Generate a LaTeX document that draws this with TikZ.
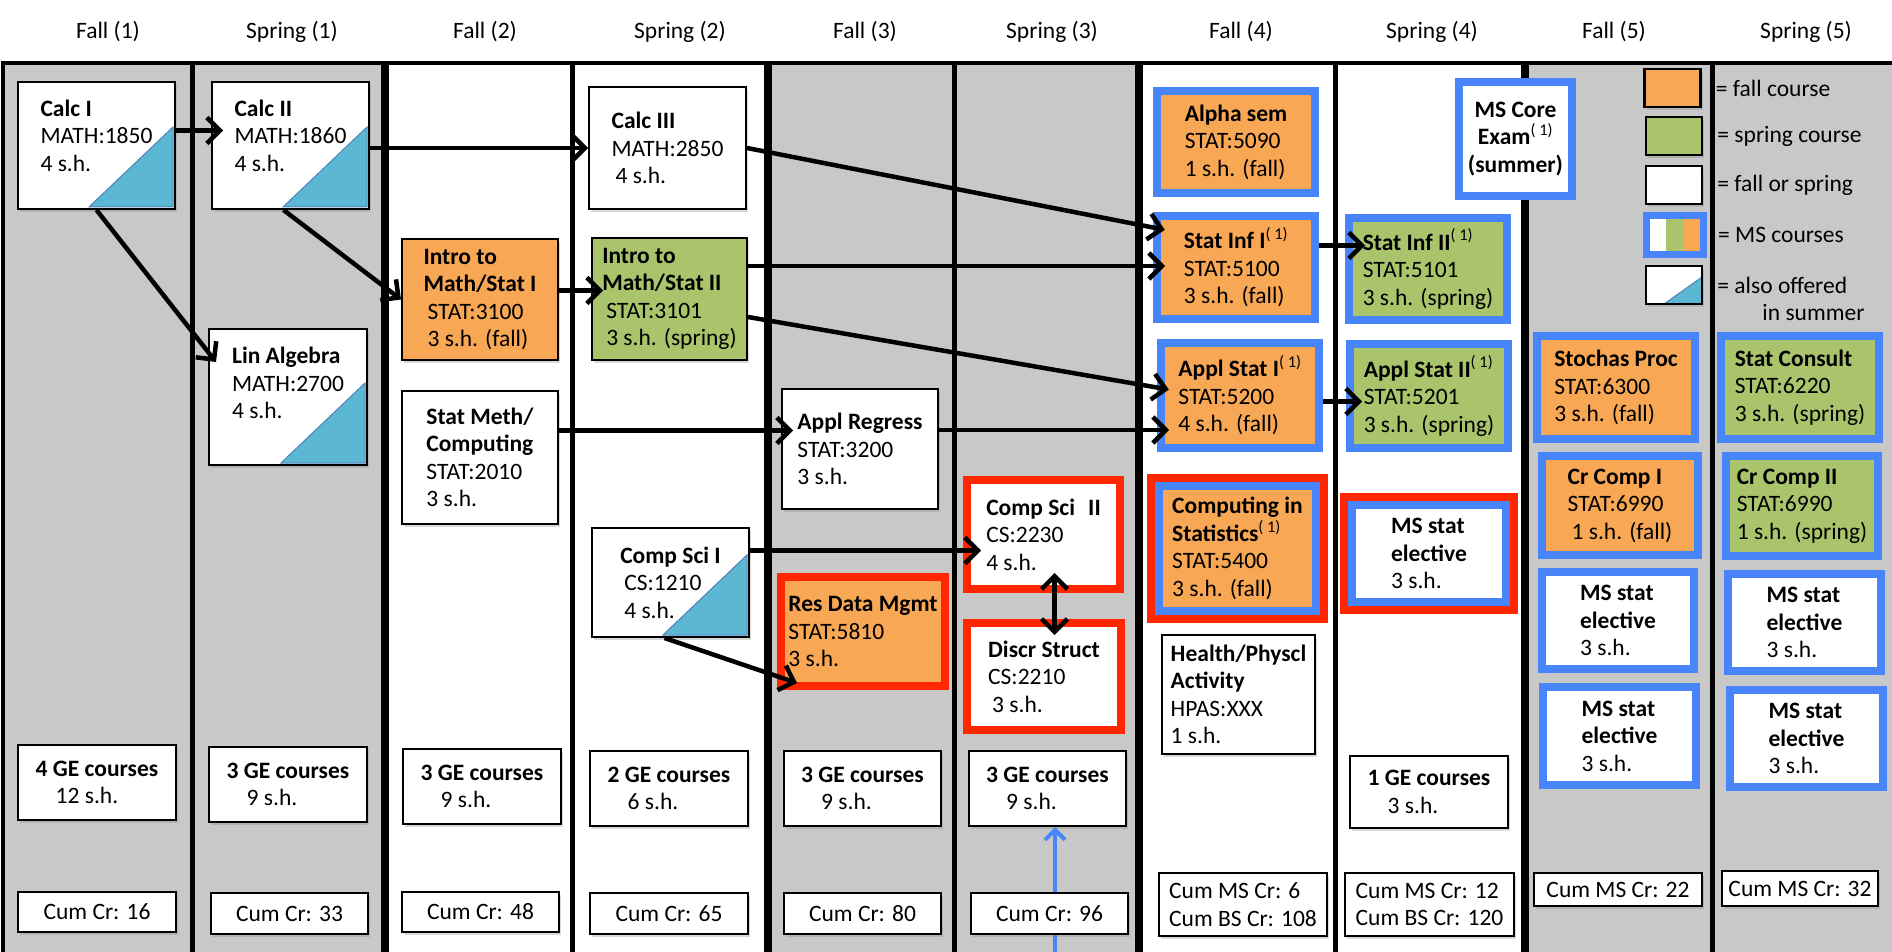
\documentclass[tikz,border=0pt]{standalone}
\usepackage{fontspec}
\setmainfont{Carlito}
\usetikzlibrary{positioning,arrows.meta,shadows,backgrounds}

\definecolor{colgrey}{RGB}{200,200,200}
\definecolor{fallorange}{RGB}{248,167,85}
\definecolor{springgreen}{RGB}{170,196,108}
\definecolor{msblue}{RGB}{72,132,250}
\definecolor{reqred}{RGB}{255,38,0}
\definecolor{summerblue}{RGB}{92,184,210}
\definecolor{summeredge}{RGB}{79,129,189}

\begin{document}
\begin{tikzpicture}[x=1pt,y=-1pt,>={Straight Barb[length=13pt,width=26pt]},
    every node/.style={font=\fontsize{23.5}{27.5}\selectfont},
    course/.style={rectangle,draw,line width=2pt,fill=white,align=left,
                   inner xsep=6pt,inner ysep=4pt,
                   drop shadow={shadow xshift=2pt,shadow yshift=-3pt,opacity=.3}},
    fall course/.style={fill=fallorange},
    spring course/.style={fill=springgreen},
    ms/.style={draw=msblue,line width=8pt},
    req/.style={draw=reqred,line width=8pt},
    req ms/.style={req,path picture={\draw[msblue,line width=24pt]
        (path picture bounding box.south west) rectangle (path picture bounding box.north east);}},
    summer/.style={path picture={\filldraw[fill=summerblue,draw=summeredge,line width=1pt]
        ([shift={(-2pt,2pt)}]path picture bounding box.south east) -- ++(-84pt,0pt)
        -- ++(84pt,80pt) -- cycle;}},
    cum/.style={course,align=center,inner ysep=3pt},
    legend box/.style={rectangle,draw,line width=2.5pt,inner sep=0pt,
                       minimum width=56,minimum height=38,
                       drop shadow={shadow xshift=2pt,shadow yshift=-3pt,opacity=.3}},
    legend text/.style={inner sep=2pt},
    link/.style={->,line width=4.5pt},
    hlink/.style={link,shorten >=-12pt}]

  \useasboundingbox (0,0) rectangle (1892,952);

  % columns
  \begin{pgfonlayer}{background}
    \foreach \a/\b in {3/192,192/385,768/954,954/1139,1525/1712,1712/1892}
      \fill[colgrey] (\a,63) rectangle (\b,952);
    \draw[line width=4pt] (3,952) -- (3,63) -- (1892,63);
    \foreach \x in {192,572,954,1335,1712}
      \draw[line width=5pt] (\x,63) -- (\x,952);
    \foreach \x in {385,768,1139,1525}
      \draw[line width=8pt] (\x,63) -- (\x,952);
  \end{pgfonlayer}

  \foreach \x/\term [count=\i] in {108/Fall (1),292/Spring (1),485/Fall (2),680/Spring (2),
      865/Fall (3),1052/Spring (3),1241/Fall (4),1432/Spring (4),1614/Fall (5),1806/Spring (5)}
    \node (head\i) at (\x,32) {\term};

  % year 1
  \node[course,summer,minimum width=157,minimum height=127] (calcI) at (96.5,145.5)
    {\textbf{Calc I}\\MATH:1850\\4 s.h.\\[-8pt]\mbox{}};
  \node[course,minimum width=158,minimum height=75] (ge1) at (97,782.5)
    {\textbf{4 GE courses}\\\hspace*{20pt}12 s.h.};
  \node[cum,minimum width=158,minimum height=40] (cum1) at (97,912) {Cum Cr: 16};

  \node[course,summer,minimum width=157,minimum height=127] (calcII) at (290.5,145.5)
    {\textbf{Calc II}\\MATH:1860\\4 s.h.\\[-8pt]\mbox{}};
  \node[course,summer,minimum width=158,minimum height=136] (linalg) at (288,397)
    {\textbf{Lin Algebra}\\MATH:2700\\4 s.h.\\\mbox{}};
  \node[course,minimum width=158,minimum height=75] (ge2) at (288,784.5)
    {\textbf{3 GE courses}\\\hspace*{20pt}9 s.h.};
  \node[cum,minimum width=157,minimum height=41] (cum2) at (289.5,913.5) {Cum Cr: 33};

  % year 2
  \node[course,fall course,minimum width=156,minimum height=121] (intro1) at (480,299.5)
    {\textbf{Intro to}\\\textbf{Math/Stat I}\\\hspace*{4pt}STAT:3100\\\hspace*{4pt}3 s.h. (fall)};
  \node[course,minimum width=156,minimum height=133] (statmeth) at (480,457.5)
    {\textbf{Stat Meth/}\\\textbf{Computing}\\STAT:2010\\3 s.h.};
  \node[course,minimum width=158,minimum height=75] (ge3) at (482,786.5)
    {\textbf{3 GE courses}\\\hspace*{20pt}9 s.h.};
  \node[cum,minimum width=157,minimum height=40] (cum3) at (480.5,912) {Cum Cr: 48};

  \node[course,minimum width=157,minimum height=122] (calcIII) at (667.5,148)
    {\textbf{Calc III}\\MATH:2850\\\hspace*{4pt}4 s.h.};
  \node[course,spring course,minimum width=155,minimum height=122] (intro2) at (669.5,299)
    {\textbf{Intro to}\\\textbf{Math/Stat II}\\\hspace*{4pt}STAT:3101\\\hspace*{4pt}3 s.h. (spring)};
  \node[course,summer,minimum width=157,minimum height=109] (compsciI) at (670.5,582.5)
    {\textbf{Comp Sci I}\\\hspace*{4pt}CS:1210\\\hspace*{4pt}4 s.h.};
  \node[course,minimum width=158,minimum height=75] (ge4) at (669,788.5)
    {\textbf{2 GE courses}\\\hspace*{20pt}6 s.h.};
  \node[cum,minimum width=158,minimum height=41] (cum4) at (669,913.5) {Cum Cr: 65};

  % year 3
  \node[course,minimum width=156,minimum height=120] (applreg) at (860,449)
    {\textbf{Appl Regress}\\STAT:3200\\3 s.h.};
  \node[course,fall course,req,inner xsep=3pt,minimum width=164,minimum height=109] (resdata) at (863,631.5)
    {\textbf{Res Data Mgmt}\\STAT:5810\\3 s.h.};
  \node[course,minimum width=157,minimum height=75] (ge5) at (862.5,788.5)
    {\textbf{3 GE courses}\\\hspace*{20pt}9 s.h.};
  \node[cum,minimum width=157,minimum height=41] (cum5) at (862.5,913.5) {Cum Cr: 80};

  \node[course,req,minimum width=153,minimum height=109] (compsciII) at (1043.5,534.5)
    {\textbf{Comp Sci\,\, II}\\CS:2230\\4 s.h.};
  \node[course,req,minimum width=154,minimum height=107] (discr) at (1044,676.5)
    {\textbf{Discr Struct}\\CS:2210\\\hspace*{4pt}3 s.h.};
  \node[course,minimum width=157,minimum height=75] (ge6) at (1047.5,788.5)
    {\textbf{3 GE courses}\\\hspace*{20pt}9 s.h.};
  \node[cum,minimum width=157,minimum height=41] (cum6) at (1049.5,913.5) {Cum Cr: 96};

  % year 4
  \node[course,fall course,ms,minimum width=158,minimum height=102] (alpha) at (1236,142)
    {\textbf{Alpha sem}\\STAT:5090\\1 s.h. (fall)};
  \node[course,fall course,ms,minimum width=158,minimum height=103] (statinf1) at (1236,267.5)
    {\textbf{Stat Inf I}\textsuperscript{( 1)}\\STAT:5100\\3 s.h. (fall)};
  \node[course,fall course,ms,minimum width=158,minimum height=105] (applstat1) at (1240,395.5)
    {\textbf{Appl Stat I}\textsuperscript{( 1)}\\STAT:5200\\4 s.h. (fall)};
  \node[course,fall course,req ms,minimum width=173,minimum height=141] (compstat) at (1237.5,548.5)
    {\textbf{Computing in}\\\textbf{Statistics}\textsuperscript{( 1)}\\STAT:5400\\3 s.h. (fall)};
  \node[course,minimum width=153,minimum height=119] (health) at (1238.5,694.5)
    {\textbf{Health/Physcl}\\\textbf{Activity}\\HPAS:XXX\\1 s.h.};
  \node[cum,align=left,minimum width=168,minimum height=63] (cumms6) at (1243,904.5)
    {Cum MS Cr: 6\\Cum BS Cr: 108};

  \node[course,ms,align=center,minimum width=113,minimum height=114] (mscore) at (1515.5,139)
    {\textbf{MS Core}\\\textbf{Exam}\textsuperscript{( 1)}\\\textbf{(summer)}};
  \node[course,spring course,ms,minimum width=158,minimum height=102] (statinf2) at (1428,269)
    {\textbf{Stat Inf II}\textsuperscript{( 1)}\\STAT:5101\\3 s.h. (spring)};
  \node[course,spring course,ms,minimum width=158,minimum height=104] (applstat2) at (1429,396)
    {\textbf{Appl Stat II}\textsuperscript{( 1)}\\STAT:5201\\3 s.h. (spring)};
  \node[course,req ms,minimum width=170,minimum height=113] (mselec4) at (1429,553.5)
    {\textbf{MS stat}\\\textbf{elective}\\3 s.h.};
  \node[course,minimum width=158,minimum height=72] (ge8) at (1429,792)
    {\textbf{1 GE courses}\\\hspace*{20pt}3 s.h.};
  \node[cum,align=left,minimum width=169,minimum height=63] (cumms12) at (1429.5,904.5)
    {Cum MS Cr: 12\\Cum BS Cr: 120};

  % year 5
  \node[course,fall course,ms,minimum width=158,minimum height=103] (stochas) at (1616,387.5)
    {\textbf{Stochas Proc}\\STAT:6300\\3 s.h. (fall)};
  \node[course,fall course,ms,minimum width=156,minimum height=99] (crcomp1) at (1620,505.5)
    {\textbf{Cr Comp I}\\STAT:6990\\\hspace*{4pt}1 s.h. (fall)};
  \node[course,ms,minimum width=152,minimum height=97] (mself1) at (1618,620.5)
    {\textbf{MS stat}\\\textbf{elective}\\3 s.h.};
  \node[course,ms,minimum width=153,minimum height=98] (mself2) at (1619.5,736)
    {\textbf{MS stat}\\\textbf{elective}\\3 s.h.};
  \node[cum,minimum width=168,minimum height=33] (cumms22) at (1618,889.5) {Cum MS Cr: 22};

  \node[course,spring course,ms,minimum width=158,minimum height=103] (statconsult) at (1800,387.5)
    {\textbf{Stat Consult}\\STAT:6220\\3 s.h. (spring)};
  \node[course,spring course,ms,minimum width=152,minimum height=100] (crcomp2) at (1802,506)
    {\textbf{Cr Comp II}\\STAT:6990\\1 s.h. (spring)};
  \node[course,ms,minimum width=153,minimum height=97] (msels1) at (1804.5,622.5)
    {\textbf{MS stat}\\\textbf{elective}\\3 s.h.};
  \node[course,ms,minimum width=153,minimum height=97] (msels2) at (1806.5,738.5)
    {\textbf{MS stat}\\\textbf{elective}\\3 s.h.};
  \node[cum,minimum width=156,minimum height=35] (cumms32) at (1800,888.5) {Cum MS Cr: 32};

  % legend
  \node[legend box,fill=fallorange] (lgfall) at (1672.5,88) {};
  \node[legend box,fill=springgreen] (lgspring) at (1674,136) {};
  \node[legend box,fill=white] (lgboth) at (1674,185) {};
  \node[legend box,draw=msblue,line width=7pt,fill=white,minimum width=57,minimum height=39,
        path picture={\fill[springgreen] ([xshift=19pt]path picture bounding box.south west)
            rectangle ([xshift=36pt]path picture bounding box.north west);
          \fill[fallorange] ([xshift=36pt]path picture bounding box.south west)
            rectangle (path picture bounding box.north east);}] (lgms) at (1675,235) {};
  \node[legend box,fill=white,
        path picture={\filldraw[fill=summerblue,draw=summeredge,line width=1pt]
          (path picture bounding box.south east) -- ++(-38pt,0pt) -- ++(38pt,27pt) -- cycle;}]
        (lgsummer) at (1674,285) {};

  \node[legend text,right=12pt of lgfall] (lgfalltxt) {= fall course};
  \node[legend text,right=12pt of lgspring] (lgspringtxt) {= spring course};
  \node[legend text,right=12pt of lgboth] (lgbothtxt) {= fall or spring};
  \node[legend text,right=9pt of lgms] (lgmstxt) {= MS courses};
  \node[legend text,align=left,anchor=north west] (lgsummertxt)
    at ([xshift=12pt,yshift=-10pt]lgsummer.north east) {= also offered\\\hspace*{45pt}in summer};

  % prerequisites
  \draw[hlink] ([yshift=15pt]calcI.east) -- ([yshift=15pt]calcI.east -| calcII.west);
  \draw[link] (calcI.south) -- ([shift={(8pt,-34pt)}]linalg.north west);
  \draw[link] ([xshift=-7pt]calcII.south) -- (intro1.west);
  \draw[link] (calcII.east |- calcIII.west) -- (calcIII.west);
  \draw[hlink] ([yshift=9pt]intro1.east) -- ([yshift=9pt]intro1.east -| intro2.west);
  \draw[hlink] (calcIII.east) -- ([yshift=40pt]statinf1.west);
  \draw[hlink] ([yshift=33pt]intro2.east) -- ([yshift=33pt]intro2.east -| statinf1.west);
  \draw[hlink] ([yshift=-18pt]intro2.east) -- ([yshift=8pt]applstat1.west);
  \draw[hlink] ([yshift=27pt]statmeth.east) -- ([yshift=27pt]statmeth.east -| applreg.west);
  \draw[hlink] ([yshift=19pt]applreg.east) -- ([yshift=19pt]applreg.east -| applstat1.west);
  \draw[hlink,shorten >=-20pt] ([yshift=22pt]statinf1.east) -- ([yshift=22pt]statinf1.east -| statinf2.west);
  \draw[hlink,shorten >=-16pt] ([yshift=-6pt]applstat1.east) -- ([yshift=-6pt]applstat1.east -| applstat2.west);
  \draw[hlink,shorten >=-18pt] ([yshift=32pt]compsciI.east) -- ([yshift=32pt]compsciI.east -| compsciII.west);
  \draw[link] ([xshift=-6pt]compsciI.south) -- ([shift={(20pt,7pt)}]resdata.south west);
  \draw[link,<->,shorten <=-20pt,shorten >=-16pt] ([xshift=11pt]compsciII.south)
    -- ([xshift=11pt]compsciII.south |- discr.north);

  \begin{pgfonlayer}{background}
    \coordinate (geBase) at (1055,952);
    \draw[->,msblue,line width=4pt,>={Straight Barb[length=10pt,width=20pt]}]
      (geBase) -- (geBase |- ge6.south);
  \end{pgfonlayer}
\end{tikzpicture}
\end{document}
